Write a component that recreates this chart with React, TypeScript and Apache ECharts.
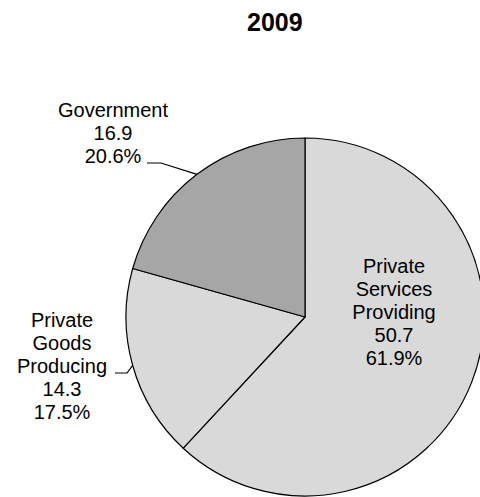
import React, { useEffect, useRef } from "react";
import * as echarts from "echarts";

const titleText = "2009";
const categories = ["Private\nServices\nProviding", "Private\nGoods\nProducing", "Government"];
const values = [50.7, 14.3, 16.9];
const colors = ["#d9d9d9", "#d9d9d9", "#a6a6a6"];

const FONT = "'Liberation Sans', Arial, sans-serif";

export default function App() {
  const ref = useRef<HTMLDivElement>(null);
  useEffect(() => {
    if (!ref.current) return;
    const chart = echarts.init(ref.current, null, { renderer: "svg" });
    // label anchor positions (text block centers) and label line bends
    const labelPos: Record<number, { x: number; y: number; bend?: number[]; end?: number[] }> = {
      0: { x: 394, y: 312 },
      1: { x: 62, y: 366, bend: [127, 373], end: [115, 373] },
      2: { x: 113, y: 133, bend: [161, 163], end: [147, 163] },
    };
    chart.setOption({
      animation: false,
      backgroundColor: "#ffffff",
      title: {
        text: titleText,
        left: 242,
        top: 4,
        textStyle: { fontFamily: FONT, fontSize: 25, fontWeight: "bold", color: "#000" },
      },
      series: [
        {
          type: "pie",
          center: [305, 317],
          radius: 179,
          startAngle: 90,
          clockwise: true,
          avoidLabelOverlap: false,
          percentPrecision: 1,
          itemStyle: { borderColor: "#000", borderWidth: 1.2 },
          label: {
            show: true,
            position: "outside",
            formatter: "{b}\n{c}\n{d}%",
            fontFamily: FONT,
            fontSize: 20,
            lineHeight: 23,
            color: "#000",
            align: "center",
          },
          labelLine: { show: true, length: 10, length2: 10, lineStyle: { color: "#000", width: 1.2 } },
          labelLayout: (params: any) => {
            const p = labelPos[params.dataIndex];
            const out: any = { x: p.x, y: p.y, align: "center", verticalAlign: "middle" };
            if (p.bend && params.labelLinePoints) {
              out.labelLinePoints = [params.labelLinePoints[0], p.bend, p.end];
            }
            return out;
          },
          data: categories.map((name, i) => ({
            name,
            value: values[i],
            itemStyle: { color: colors[i] },
            label: i === 0 ? { position: "inside" } : undefined,
            labelLine: i === 0 ? { show: false } : undefined,
          })),
        },
      ],
    });
    return () => chart.dispose();
  }, []);
  return (
    <div
      ref={ref}
      style={{ position: "fixed", left: 0, top: 0, width: 480, height: 497 }}
    />
  );
}
